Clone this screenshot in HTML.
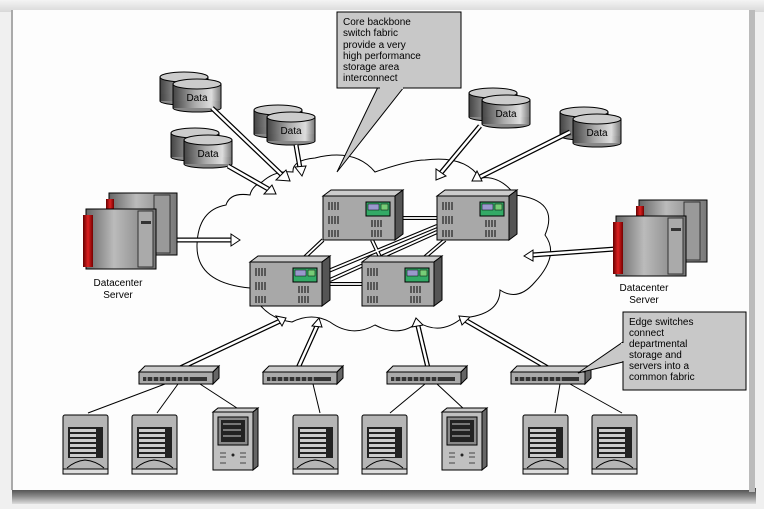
<!DOCTYPE html>
<html><head><meta charset="utf-8"><style>
html,body{margin:0;padding:0;background:#f2f2f2;}
svg{display:block;}
text{font-family:"Liberation Sans",sans-serif;}
</style></head><body>
<svg width="764" height="509" viewBox="0 0 764 509" xmlns="http://www.w3.org/2000/svg">
<defs>
<linearGradient id="topg" x1="0" y1="0" x2="0" y2="1"><stop offset="0" stop-color="#f4f4f4"/><stop offset="1" stop-color="#d8d8d8"/></linearGradient>
<linearGradient id="botg" x1="0" y1="0" x2="0" y2="1"><stop offset="0" stop-color="#444"/><stop offset="0.5" stop-color="#888"/><stop offset="1" stop-color="#ddd"/></linearGradient>
<linearGradient id="cyl" x1="0" y1="0" x2="1" y2="0"><stop offset="0" stop-color="#444"/><stop offset="0.45" stop-color="#aaa"/><stop offset="0.8" stop-color="#ddd"/><stop offset="1" stop-color="#777"/></linearGradient>
<linearGradient id="srv" x1="0" y1="0" x2="1" y2="0"><stop offset="0" stop-color="#666"/><stop offset="0.4" stop-color="#bbb"/><stop offset="1" stop-color="#777"/></linearGradient>
<linearGradient id="red" x1="0" y1="0" x2="1" y2="0"><stop offset="0" stop-color="#600"/><stop offset="0.5" stop-color="#d22"/><stop offset="1" stop-color="#700"/></linearGradient>
<g id="cy">
<rect x="0" y="5" width="48" height="24" fill="url(#cyl)" stroke="#000"/>
<ellipse cx="24" cy="29" rx="24" ry="4" fill="#888" stroke="#000"/>
<rect x="0.5" y="22" width="47" height="7" fill="url(#cyl)"/>
<ellipse cx="24" cy="5" rx="24" ry="5" fill="#ccc" stroke="#000"/>
</g>
<g id="dgrp">
<use href="#cy"/>
<use href="#cy" x="13" y="7"/>
<text x="37" y="29" font-size="10" text-anchor="middle" fill="#000">Data</text>
</g>
<g id="core">
<polygon points="0,6 8,0 80,0 72,6" fill="#ccc" stroke="#000"/>
<polygon points="72,6 80,0 80,44 72,50" fill="#555" stroke="#000"/>
<rect x="0" y="6" width="72" height="44" fill="#a8a8a8" stroke="#000"/>
<rect x="43" y="12" width="24" height="14" fill="#3a6" stroke="#000"/>
<rect x="45" y="14" width="11" height="6" fill="#99c" stroke="#000" stroke-width="0.5"/>
<rect x="58" y="14" width="7" height="6" fill="#7c7" stroke="#000" stroke-width="0.5"/>
<g stroke="#222" stroke-width="1.2">
<path d="M6,12v8M9,12v8M12,12v8M15,12v8M6,26v8M9,26v8M12,26v8M15,26v8M6,40v7M9,40v7M12,40v7M15,40v7"/>
<path d="M49,30v7M52,30v7M55,30v7M58,30v7M49,40v7M52,40v7M55,40v7M58,40v7"/>
</g>
</g>
<g id="esw">
<polygon points="0,6 6,0 80,0 74,6" fill="#ccc" stroke="#000"/>
<polygon points="74,6 80,0 80,12 74,18" fill="#666" stroke="#000"/>
<rect x="0" y="6" width="74" height="12" fill="#aaa" stroke="#000"/>
<rect x="4" y="11" width="64" height="4" fill="#333"/>
<path d="M8,11v4M14,11v4M20,11v4M26,11v4M32,11v4M38,11v4M44,11v4M50,11v4" stroke="#ccc"/>
</g>
<g id="bs">
<rect x="0" y="0" width="45" height="58" rx="2" fill="#b5b5b5" stroke="#000"/>
<rect x="0" y="54" width="45" height="5" fill="#ddd" stroke="#000"/>
<rect x="5" y="12" width="35" height="31" fill="#222"/>
<g fill="#ccc"><rect x="7" y="14" width="26" height="3"/><rect x="7" y="19" width="26" height="3"/><rect x="7" y="24" width="26" height="3"/><rect x="7" y="29" width="26" height="3"/><rect x="7" y="34" width="26" height="3"/><rect x="7" y="39" width="26" height="3"/></g>
<path d="M4,53 Q12,46 22,45 Q33,46 41,53" fill="none" stroke="#000"/>
</g>
<g id="ts">
<polygon points="0,4 5,0 45,0 40,4" fill="#ccc" stroke="#000"/>
<polygon points="40,4 45,0 45,58 40,62" fill="#666" stroke="#000"/>
<rect x="0" y="4" width="40" height="58" fill="#c0c0c0" stroke="#000"/>
<rect x="5" y="9" width="30" height="28" fill="#888" stroke="#000"/>
<rect x="8" y="12" width="24" height="22" fill="#222"/>
<path d="M10,16h18M10,22h18M10,28h18" stroke="#ccc"/>
<path d="M7,45h6M7,49h6M27,45h6M27,49h6M7,55h6M27,55h6" stroke="#444"/>
<circle cx="20" cy="47" r="1.5" fill="#222"/>
</g>
<g id="dc">
<rect x="23" y="0" width="68" height="62" fill="url(#srv)" stroke="#000"/>
<rect x="20" y="6" width="8" height="52" fill="url(#red)"/>
<rect x="68" y="2" width="16" height="58" fill="#999" stroke="#333"/>
<rect x="0" y="16" width="70" height="60" fill="url(#srv)" stroke="#000"/>
<rect x="-3" y="22" width="10" height="52" fill="url(#red)"/>
<rect x="52" y="18" width="15" height="56" fill="#aaa" stroke="#333"/>
<rect x="55" y="28" width="10" height="3" fill="#333"/>
</g>
</defs>

<rect x="0" y="0" width="764" height="509" fill="#f0f0f0"/>
<rect x="0" y="0" width="764" height="12" fill="url(#topg)"/>
<rect x="12" y="488" width="744" height="16" fill="url(#botg)"/>
<rect x="749" y="10" width="6" height="482" fill="#bbb"/>
<rect x="11" y="10" width="2" height="480" fill="#aaa"/>
<rect x="13" y="10" width="736" height="480" fill="#fdfdfd"/>

<path d="M250,195 Q230,192 226,205 Q198,210 197,245 Q196,283 250,288 Q262,318 292,322 Q312,312 330,322 Q352,338 375,325 Q400,338 418,322 Q440,336 462,318 Q500,315 500,290 Q518,302 535,282 Q560,255 545,235 Q560,200 515,195 Q500,175 480,178 Q465,155 425,160 Q410,160 375,172 Q355,148 315,158 Q292,160 293,172 Q275,170 262,182 Q252,186 250,195 Z" fill="none" stroke="#000" stroke-width="1"/>

<use href="#dgrp" x="160" y="72"/>
<use href="#dgrp" x="254" y="105"/>
<use href="#dgrp" x="171" y="128"/>
<use href="#dgrp" x="469" y="88"/>
<use href="#dgrp" x="560" y="107"/>

<g fill="none" stroke="#000" stroke-width="5">
<path d="M212,108L282,175M228,166L270,190M296,145L300,168M480,126L440,174M570,132L478,178M176,240L232,240M615,249L532,255M178,369L280,321M298,368L317,326M428,368L418,326M548,368L465,320"/>
</g>
<g fill="none" stroke="#fff" stroke-width="2.5">
<path d="M212,108L282,175M228,166L270,190M296,145L300,168M480,126L440,174M570,132L478,178M176,240L232,240M615,249L532,255M178,369L280,321M298,368L317,326M428,368L418,326M548,368L465,320"/>
</g>
<g fill="#fff" stroke="#000" stroke-width="1">
<polygon points="290,181 276,180 286,170"/>
<polygon points="276,194 264,194 272,185"/>
<polygon points="302,176 295,167 306,166"/>
<polygon points="436,180 436,169 446,176"/>
<polygon points="472,181 477,171 482,181"/>
<polygon points="240,240 231,234 231,246"/>
<polygon points="524,256 533,250 533,261"/>
<polygon points="286,318 276,316 282,326"/>
<polygon points="319,318 312,326 322,327"/>
<polygon points="416,318 412,327 423,325"/>
<polygon points="459,316 470,317 462,325"/>
</g>

<g stroke="#000" stroke-width="4" fill="none">
<path d="M398,218H437M324,284H362M323,240L305,257M445,240L425,257M372,240L380,257M437,226L326,272M437,232L330,280"/>
</g>
<g stroke="#fff" stroke-width="1.8" fill="none">
<path d="M398,218H437M324,284H362M323,240L305,257M445,240L425,257M372,240L380,257M437,226L326,272M437,232L330,280"/>
</g>

<use href="#core" x="323" y="190"/>
<use href="#core" x="437" y="190"/>
<use href="#core" x="250" y="256"/>
<use href="#core" x="362" y="256"/>

<use href="#dc" x="86" y="193"/>
<text x="118" y="286" font-size="10" text-anchor="middle">Datacenter</text>
<text x="118" y="298" font-size="10" text-anchor="middle">Server</text>
<use href="#dc" x="616" y="200"/>
<text x="644" y="291" font-size="10" text-anchor="middle">Datacenter</text>
<text x="644" y="303" font-size="10" text-anchor="middle">Server</text>

<g stroke="#000" stroke-width="1" fill="none">
<path d="M165,384L88,413M178,384L157,413M200,384L240,410M313,384L320,413M425,384L390,413M437,384L465,410M560,384L555,413M570,384L622,413"/>
</g>
<use href="#esw" x="139" y="366"/>
<use href="#esw" x="263" y="366"/>
<use href="#esw" x="387" y="366"/>
<use href="#esw" x="511" y="366"/>

<use href="#bs" x="63" y="415"/>
<use href="#bs" x="132" y="415"/>
<use href="#ts" x="213" y="408"/>
<use href="#bs" x="293" y="415"/>
<use href="#bs" x="362" y="415"/>
<use href="#ts" x="442" y="408"/>
<use href="#bs" x="523" y="415"/>
<use href="#bs" x="592" y="415"/>

<polygon points="378,87 404,87 337,172" fill="#c8c8c8" stroke="#000"/>
<rect x="337" y="12" width="124" height="76" fill="#c8c8c8" stroke="#000"/>
<rect x="380" y="86" width="23" height="3" fill="#c8c8c8"/>
<g font-size="10" fill="#000">
<text x="343" y="25">Core backbone</text>
<text x="343" y="36">switch fabric</text>
<text x="343" y="48">provide a very</text>
<text x="343" y="59">high performance</text>
<text x="343" y="70">storage area</text>
<text x="343" y="81">interconnect</text>
</g>
<polygon points="623,342 623,362 578,373" fill="#c8c8c8" stroke="#000"/>
<rect x="623" y="312" width="123" height="78" fill="#c8c8c8" stroke="#000"/>
<rect x="621" y="343" width="4" height="18" fill="#c8c8c8"/>
<g font-size="10" fill="#000">
<text x="629" y="325">Edge switches</text>
<text x="629" y="336">connect</text>
<text x="629" y="347">departmental</text>
<text x="629" y="358">storage and</text>
<text x="629" y="369">servers into a</text>
<text x="629" y="380">common fabric</text>
</g>
</svg>
</body></html>
